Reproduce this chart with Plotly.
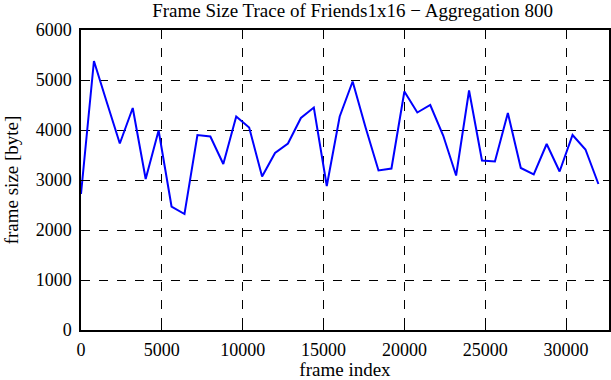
import plotly.graph_objects as go

frame_index = [i * 800 for i in range(41)]
frame_size = [2720, 5380, 4550, 3730, 4440, 3020, 3990, 2470, 2320, 3900,
              3870, 3320, 4270, 4050, 3070, 3540, 3730, 4240, 4450, 2880,
              4270, 4970, 4050, 3190, 3230, 4770, 4350, 4500, 3890, 3090,
              4790, 3390, 3370, 4340, 3240, 3110, 3720, 3170, 3900, 3610, 2920]

x_ticks = [0, 5000, 10000, 15000, 20000, 25000, 30000]
y_ticks = [0, 1000, 2000, 3000, 4000, 5000, 6000]

font = "Liberation Serif"

fig = go.Figure()
fig.add_trace(go.Scatter(x=frame_index, y=frame_size, mode="lines",
                         line=dict(color="#0000ff", width=2)))

axis_common = dict(showline=True, linecolor="black", linewidth=1.5, mirror="allticks",
                   ticks="inside", ticklen=5, tickwidth=1.2, tickcolor="black",
                   showgrid=True, gridcolor="black", griddash="dash", gridwidth=1,
                   zeroline=False, automargin=False,
                   tickfont=dict(family=font, size=18, color="black"))

fig.update_layout(
    width=611, height=380,
    margin=dict(l=81, r=2, t=30, b=50),
    plot_bgcolor="white", paper_bgcolor="white",
    showlegend=False,
    title=dict(text="Frame Size Trace of Friends1x16 − Aggregation 800",
               x=0.577, xanchor="center", y=0.972, yanchor="middle",
               font=dict(family=font, size=19, color="black")),
    xaxis=dict(range=[0, 32655], tickvals=x_ticks, ticktext=[str(v) for v in x_ticks],
               ticklabelstandoff=3,
               title=dict(text="frame index", font=dict(family=font, size=19, color="black"), standoff=3),
               **axis_common),
    yaxis=dict(range=[0, 6000], tickvals=y_ticks, ticktext=[str(v) for v in y_ticks],
               ticklabelstandoff=4,
               title=dict(text="frame size [byte]", font=dict(family=font, size=19, color="black"), standoff=12),
               **axis_common),
)

fig.write_html("out.html", config={"displayModeBar": False},
               post_script="document.body.style.margin='0';document.body.style.overflow='hidden';")
